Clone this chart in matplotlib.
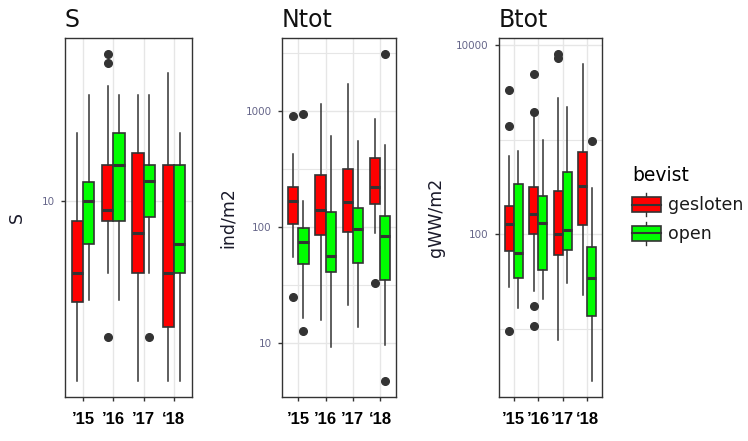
import numpy as np
import matplotlib
matplotlib.use("Agg")
import matplotlib.pyplot as plt
from matplotlib.legend_handler import HandlerBase
from matplotlib.patches import Patch, Rectangle
from matplotlib.lines import Line2D
from matplotlib.ticker import FixedLocator, NullFormatter

years = ["\u201915", "\u201916", "\u201917", "\u201818"]
bevist = ["gesloten", "open"]
box_colors = ["#FF0000", "#00FF00"]

# box stats per year: whisker low, Q1, median, Q3, whisker high
s_closed = [[1.0, 2.75, 4.0, 7.75, 24], [4.0, 7.75, 9.0, 16, 44],
            [1.0, 4.0, 6.7, 18.5, 39], [1.0, 2.0, 4.0, 16, 52]]
s_closed_out = [[], [1.75, 59, 66], [], []]
s_open = [[2.8, 5.75, 10, 12.75, 39], [2.8, 7.75, 16, 24, 39],
          [4.0, 8.2, 13, 16, 39], [1.0, 4.0, 5.75, 16, 24]]
s_open_out = [[], [], [1.75], []]

n_closed = [[55, 107, 169, 220, 429], [15.8, 85, 141, 283, 1148],
            [21, 90, 165, 317, 1708], [88, 157, 222, 391, 853]]
n_closed_out = [[25, 911], [], [], [32.6]]
n_open = [[16.5, 47.6, 74.6, 97, 168], [9.2, 41, 56, 135, 604],
          [13.6, 49, 96, 145, 555], [9.6, 35, 83, 124, 513]]
n_open_out = [[12.7, 942], [], [], [4.7, 3094]]

b_closed = [[28, 67, 128, 198, 665], [25, 100, 165, 317, 1741],
            [7.6, 60, 102, 290, 2722], [22.7, 125, 328, 746, 6350]]
b_closed_out = [[9.6, 1407, 3365], [10.9, 17.5, 1981, 4926], [7350, 7965], []]
b_open = [[16.7, 34.7, 63, 344, 752], [20.6, 42, 132, 257, 1000],
          [31, 69, 110, 450, 2200], [2.85, 13.9, 35, 73, 305]]
b_open_out = [[], [], [], [959]]

panels = [
    ("S", "S", s_closed, s_closed_out, s_open, s_open_out, [10]),
    ("Ntot", "ind/m2", n_closed, n_closed_out, n_open, n_open_out, [10, 100, 1000]),
    ("Btot", "gWW/m2", b_closed, b_closed_out, b_open, b_open_out, [100, 10000]),
]

EDGE = "#333333"
GRID = "#E6E6E6"
W, H = 748, 441
# axes rectangles in pixels: left, width ; label x offset (axes fraction)
rects = [(65, 127, -0.378), (282, 114.5, -0.472), (499, 103, -0.613)]


class BoxKey(HandlerBase):
    """ggplot-like legend key: small box with median and whiskers."""
    def create_artists(self, legend, orig, xd, yd, w, h, fontsize, trans):
        x0 = -xd
        cy = 0.3 * fontsize
        bh = 0.44 * fontsize
        wh = 0.68 * fontsize
        cx = x0 + w / 2
        whisk = Line2D([cx, cx], [cy - wh, cy + wh], color=EDGE, lw=1.0, transform=trans)
        box = Rectangle((x0, cy - bh), w, 2 * bh, facecolor=orig.get_facecolor(),
                        edgecolor=EDGE, lw=1.2, transform=trans)
        med = Line2D([x0, x0 + w], [cy, cy], color=EDGE, lw=1.5, transform=trans)
        return [whisk, box, med]


def minor_breaks(major):
    lg = np.log10(major)
    if len(lg) < 2:
        return []
    step = lg[1] - lg[0]
    ext = np.concatenate([[lg[0] - step], lg, [lg[-1] + step]])
    return list(10 ** ((ext[:-1] + ext[1:]) / 2))


fig = plt.figure(figsize=(W / 100, H / 100), dpi=100)
x = np.arange(1, len(years) + 1)

for (title, ylab, closed, closed_out, opn, opn_out, major), (left, width, labx) in zip(panels, rects):
    ax = fig.add_axes([left / W, 44 / H, width / W, 359 / H])
    ax.set_yscale("log")
    everything = []
    for off, vals, outs, col in [(-0.1875, closed, closed_out, box_colors[0]),
                                 (0.1875, opn, opn_out, box_colors[1])]:
        stats = [dict(whislo=v[0], q1=v[1], med=v[2], q3=v[3], whishi=v[4], fliers=o)
                 for v, o in zip(vals, outs)]
        for v, o in zip(vals, outs):
            everything += list(v) + list(o)
        ax.bxp(stats, positions=x + off, widths=0.375, patch_artist=True,
               showcaps=False, manage_ticks=False,
               boxprops=dict(facecolor=col, edgecolor=EDGE, linewidth=1.2),
               medianprops=dict(color=EDGE, linewidth=2.2, solid_capstyle="butt"),
               whiskerprops=dict(color=EDGE, linewidth=1.1),
               flierprops=dict(marker="o", markerfacecolor=EDGE, markeredgecolor=EDGE,
                               markersize=5.5))
    # ggplot style 5% expansion in log space
    lo, hi = np.log10(min(everything)), np.log10(max(everything))
    pad = 0.05 * (hi - lo)
    ax.set_ylim(10 ** (lo - pad), 10 ** (hi + pad))
    ax.set_xlim(0.4, len(years) + 0.6)

    ax.yaxis.set_major_locator(FixedLocator(major))
    ax.set_yticklabels([f"{m:g}" for m in major])
    ax.yaxis.set_minor_locator(FixedLocator(minor_breaks(major)))
    ax.yaxis.set_minor_formatter(NullFormatter())
    ax.set_xticks(x, years)
    for lab in ax.get_xticklabels():
        lab.set_fontfamily("Liberation Sans")
        lab.set_fontweight("bold")
        lab.set_fontsize(12)
    ax.tick_params(axis="x", length=3, width=1, color=EDGE, pad=8, labelcolor="black")
    ax.tick_params(axis="y", which="major", length=3, width=1, color=EDGE, pad=4.5,
                   labelsize=7.5, labelcolor="#66668a")
    ax.tick_params(axis="y", which="minor", length=0)

    ax.set_axisbelow(True)
    ax.grid(True, which="major", color=GRID, lw=1.0)
    ax.grid(True, which="minor", axis="y", color=GRID, lw=0.8)
    for sp in ax.spines.values():
        sp.set_color(EDGE)
        sp.set_linewidth(1.0)

    ax.set_title(title, loc="left", fontsize=17, pad=8, color="#111111")
    ax.set_ylabel(ylab, fontsize=12.5, color="#1a1a2a", va="center")
    ax.yaxis.set_label_coords(labx, 0.5)

handles = [Patch(facecolor=c) for c in box_colors]
fig.legend(handles, bevist, title="bevist", handler_map={Patch: BoxKey()},
           loc="upper left", bbox_to_anchor=(632 / W, 1 - 166 / H),
           frameon=False, borderpad=0, borderaxespad=0, alignment="left",
           fontsize=12.5, title_fontsize=13.5, handlelength=1.67,
           handletextpad=0.4, labelspacing=0.62, labelcolor="#1a1a1a")

fig.savefig("out.png", dpi=100)
